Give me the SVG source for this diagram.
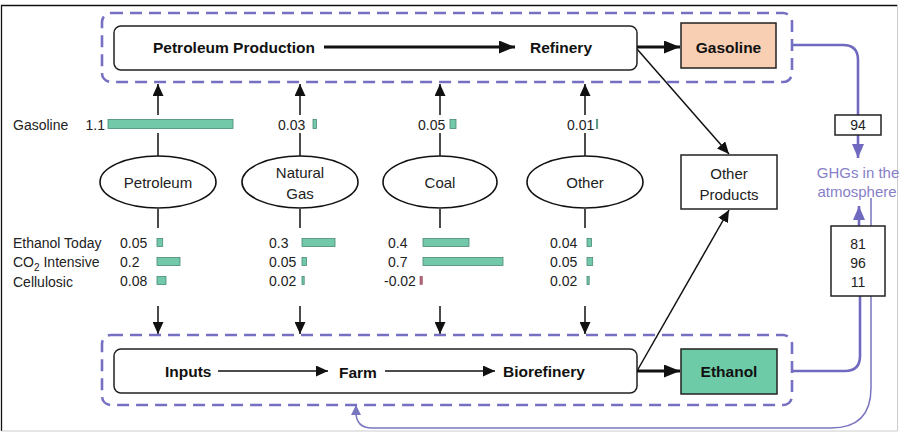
<svg xmlns="http://www.w3.org/2000/svg" width="903" height="434" viewBox="0 0 903 434">
<defs>
<style>
text{font-family:"Liberation Sans",Arial,sans-serif;fill:#222}
.b{font-weight:bold;font-size:15.5px;fill:#111}
.n{font-size:14px}
.e{font-size:15px}
.g{font-size:15px;fill:#8780c8}
.dash{fill:none;stroke:#7670c2;stroke-width:2.6;stroke-dasharray:12 7}
.box{fill:#fff;stroke:#222;stroke-width:1.5}
.ell{fill:#fff;stroke:#111;stroke-width:1.6}
.ln{stroke:#111;stroke-width:1.5;fill:none}
.thick{stroke:#111;stroke-width:3;fill:none}
.bar{fill:#72c9a9;stroke:#4a8a74;stroke-width:0.8}
.neg{fill:#b86a7c;stroke:#8a4a5a;stroke-width:0.6}
.pur{stroke:#7069c0;stroke-width:2.6;fill:none}
.pthin{stroke:#7a75bf;stroke-width:1.5;fill:none}
</style>
<marker id="ah" markerUnits="userSpaceOnUse" markerWidth="12" markerHeight="11" refX="12" refY="5.5" orient="auto"><path d="M0,0 L12,5.5 L0,11 z" fill="#111"/></marker>
<marker id="ahb" markerUnits="userSpaceOnUse" markerWidth="16" markerHeight="13" refX="16" refY="6.5" orient="auto"><path d="M0,0 L16,6.5 L0,13 z" fill="#111"/></marker>
<marker id="ahp" markerUnits="userSpaceOnUse" markerWidth="14" markerHeight="12" refX="14" refY="6" orient="auto"><path d="M0,0 L14,6 L0,12 z" fill="#7069c0"/></marker>
<marker id="ahpt" markerUnits="userSpaceOnUse" markerWidth="10" markerHeight="10" refX="10" refY="5" orient="auto"><path d="M0,0 L10,5 L0,10 z" fill="#7a75bf"/></marker>
</defs>
<rect x="0" y="0" width="903" height="434" fill="#fff"/>
<path d="M1.5 431 V5.5 H897.5" fill="none" stroke="#111" stroke-width="1.3"/>
<path d="M897.5 5.5 V431 H1.5" fill="none" stroke="#ccc" stroke-width="1"/>

<g id="connectors">
<path class="ln" d="M158 156 V133 M158 115 V84" marker-end="url(#ah)"/>
<path class="ln" d="M300 156 V133 M300 115 V84" marker-end="url(#ah)"/>
<path class="ln" d="M440 156 V133 M440 115 V84" marker-end="url(#ah)"/>
<path class="ln" d="M585 156 V133 M585 115 V84" marker-end="url(#ah)"/>
<path class="ln" d="M158 209 V228 M158 306 V334" marker-end="url(#ah)"/>
<path class="ln" d="M300 209 V228 M300 306 V334" marker-end="url(#ah)"/>
<path class="ln" d="M440 209 V228 M440 306 V334" marker-end="url(#ah)"/>
<path class="ln" d="M585 209 V228 M585 306 V334" marker-end="url(#ah)"/>
<line class="ln" x1="637" y1="49" x2="729" y2="154" marker-end="url(#ah)"/>
<line class="ln" x1="637" y1="371" x2="729" y2="210" marker-end="url(#ah)"/>
<path class="pthin" d="M871 198 V388 Q871 428 831 428 H372 Q356 428 356 412 V405" marker-end="url(#ahpt)"/>
<path class="pur" d="M793 45 H843 Q858 45 858 60 V115"/>
<line class="pur" x1="858" y1="135" x2="858" y2="158" marker-end="url(#ahp)"/>
<path class="pur" d="M793 371 H845 Q860 371 860 356 V296"/>
<line class="pur" x1="859" y1="226" x2="859" y2="206" marker-end="url(#ahp)"/>
</g>

<g id="top-group">
<rect class="dash" x="102" y="13" width="690" height="69" rx="9"/>
<rect class="box" x="114" y="26" width="523" height="44" rx="7"/>
<text class="b" x="153" y="52.5">Petroleum Production</text>
<line class="thick" x1="324" y1="47" x2="515" y2="47" marker-end="url(#ahb)"/>
<text class="b" x="530" y="52.5">Refinery</text>
<line class="thick" x1="637" y1="47" x2="680" y2="47" marker-end="url(#ahb)"/>
</g>
<g id="gasoline">
<rect x="681" y="23" width="95" height="45" fill="#f8cfb3" stroke="#222" stroke-width="1.5"/>
<text class="b" x="728.5" y="52.5" text-anchor="middle">Gasoline</text>
</g>

<g id="bottom-group">
<rect class="dash" x="102" y="335" width="690" height="70" rx="9"/>
<rect class="box" x="114" y="349" width="523" height="44" rx="7"/>
<text class="b" x="165" y="376.5">Inputs</text>
<line class="ln" x1="218" y1="371" x2="328" y2="371" marker-end="url(#ah)"/>
<text class="b" x="339" y="378">Farm</text>
<line class="ln" x1="385" y1="371" x2="495" y2="371" marker-end="url(#ah)"/>
<text class="b" x="503" y="376.5">Biorefinery</text>
<line class="thick" x1="637" y1="371" x2="680" y2="371" marker-end="url(#ahb)"/>
</g>
<g id="ethanol">
<rect x="681" y="349" width="96" height="45" fill="#6ecba7" stroke="#222" stroke-width="1.5"/>
<text class="b" x="729" y="377" text-anchor="middle">Ethanol</text>
</g>

<g id="other-products">
<rect class="box" x="681" y="155" width="96" height="54"/>
<text class="e" x="729" y="179" text-anchor="middle">Other</text>
<text class="e" x="729" y="200" text-anchor="middle">Products</text>
</g>

<g id="petroleum">
<ellipse class="ell" cx="158" cy="182" rx="58" ry="26"/>
<text class="e" x="158" y="188" text-anchor="middle">Petroleum</text>
</g>
<g id="natural-gas">
<ellipse class="ell" cx="300" cy="182" rx="58" ry="26"/>
<text class="e" x="300" y="178" text-anchor="middle">Natural</text>
<text class="e" x="300" y="199" text-anchor="middle">Gas</text>
</g>
<g id="coal">
<ellipse class="ell" cx="440" cy="182" rx="57" ry="26"/>
<text class="e" x="440" y="188" text-anchor="middle">Coal</text>
</g>
<g id="other">
<ellipse class="ell" cx="585" cy="182" rx="58" ry="26"/>
<text class="e" x="585" y="188" text-anchor="middle">Other</text>
</g>

<g id="gasoline-bars">
<text class="n" x="13" y="130">Gasoline</text>
<text class="n" x="105" y="130" text-anchor="end">1.1</text>
<rect class="bar" x="108" y="119.5" width="125" height="9"/>
<text class="n" x="278" y="130">0.03</text>
<rect class="bar" x="313" y="119.5" width="3.5" height="9"/>
<text class="n" x="418" y="130">0.05</text>
<rect class="bar" x="450" y="119.5" width="6" height="9"/>
<text class="n" x="567" y="130">0.01</text>
<rect class="bar" x="596.5" y="119.5" width="1.2" height="9"/>
</g>

<g id="ethanol-bars">
<text class="n" x="13" y="248">Ethanol Today</text>
<text class="n" x="13" y="267">CO<tspan dy="4" font-size="10">2</tspan><tspan dy="-4"> Intensive</tspan></text>
<text class="n" x="13" y="287">Cellulosic</text>

<text class="n" x="120" y="248">0.05</text>
<text class="n" x="120" y="267">0.2</text>
<text class="n" x="120" y="286">0.08</text>
<rect class="bar" x="157" y="238.5" width="5.7" height="8"/>
<rect class="bar" x="157" y="257.5" width="23" height="8"/>
<rect class="bar" x="157" y="276.5" width="9" height="8"/>

<text class="n" x="269" y="248">0.3</text>
<text class="n" x="269" y="267">0.05</text>
<text class="n" x="269" y="286">0.02</text>
<rect class="bar" x="302" y="238.5" width="33" height="8"/>
<rect class="bar" x="302" y="257.5" width="4.5" height="8"/>
<rect class="bar" x="302" y="276.5" width="2.2" height="8"/>

<text class="n" x="388" y="248">0.4</text>
<text class="n" x="388" y="267">0.7</text>
<text class="n" x="384" y="286">-0.02</text>
<rect class="bar" x="423" y="238.5" width="46" height="8"/>
<rect class="bar" x="423" y="257.5" width="80" height="8"/>
<rect class="neg" x="420" y="276.5" width="2.3" height="8"/>

<text class="n" x="550" y="248">0.04</text>
<text class="n" x="550" y="267">0.05</text>
<text class="n" x="550" y="286">0.02</text>
<rect class="bar" x="587" y="238.5" width="4.5" height="8"/>
<rect class="bar" x="587" y="257.5" width="5.7" height="8"/>
<rect class="bar" x="587" y="276.5" width="2.2" height="8"/>
</g>

<g id="ghg-94">
<rect class="box" x="835" y="115" width="46" height="20"/>
<text class="n" x="858" y="130" text-anchor="middle">94</text>
</g>
<g id="ghg-label">
<text class="g" x="858" y="178" text-anchor="middle">GHGs in the</text>
<text class="g" x="857" y="197" text-anchor="middle">atmosphere</text>
</g>
<g id="ghg-ethanol">
<rect class="box" x="831" y="226" width="54" height="70"/>
<text class="n" x="858" y="249" text-anchor="middle">81</text>
<text class="n" x="858" y="268" text-anchor="middle">96</text>
<text class="n" x="858" y="287" text-anchor="middle">11</text>
</g>
</svg>
